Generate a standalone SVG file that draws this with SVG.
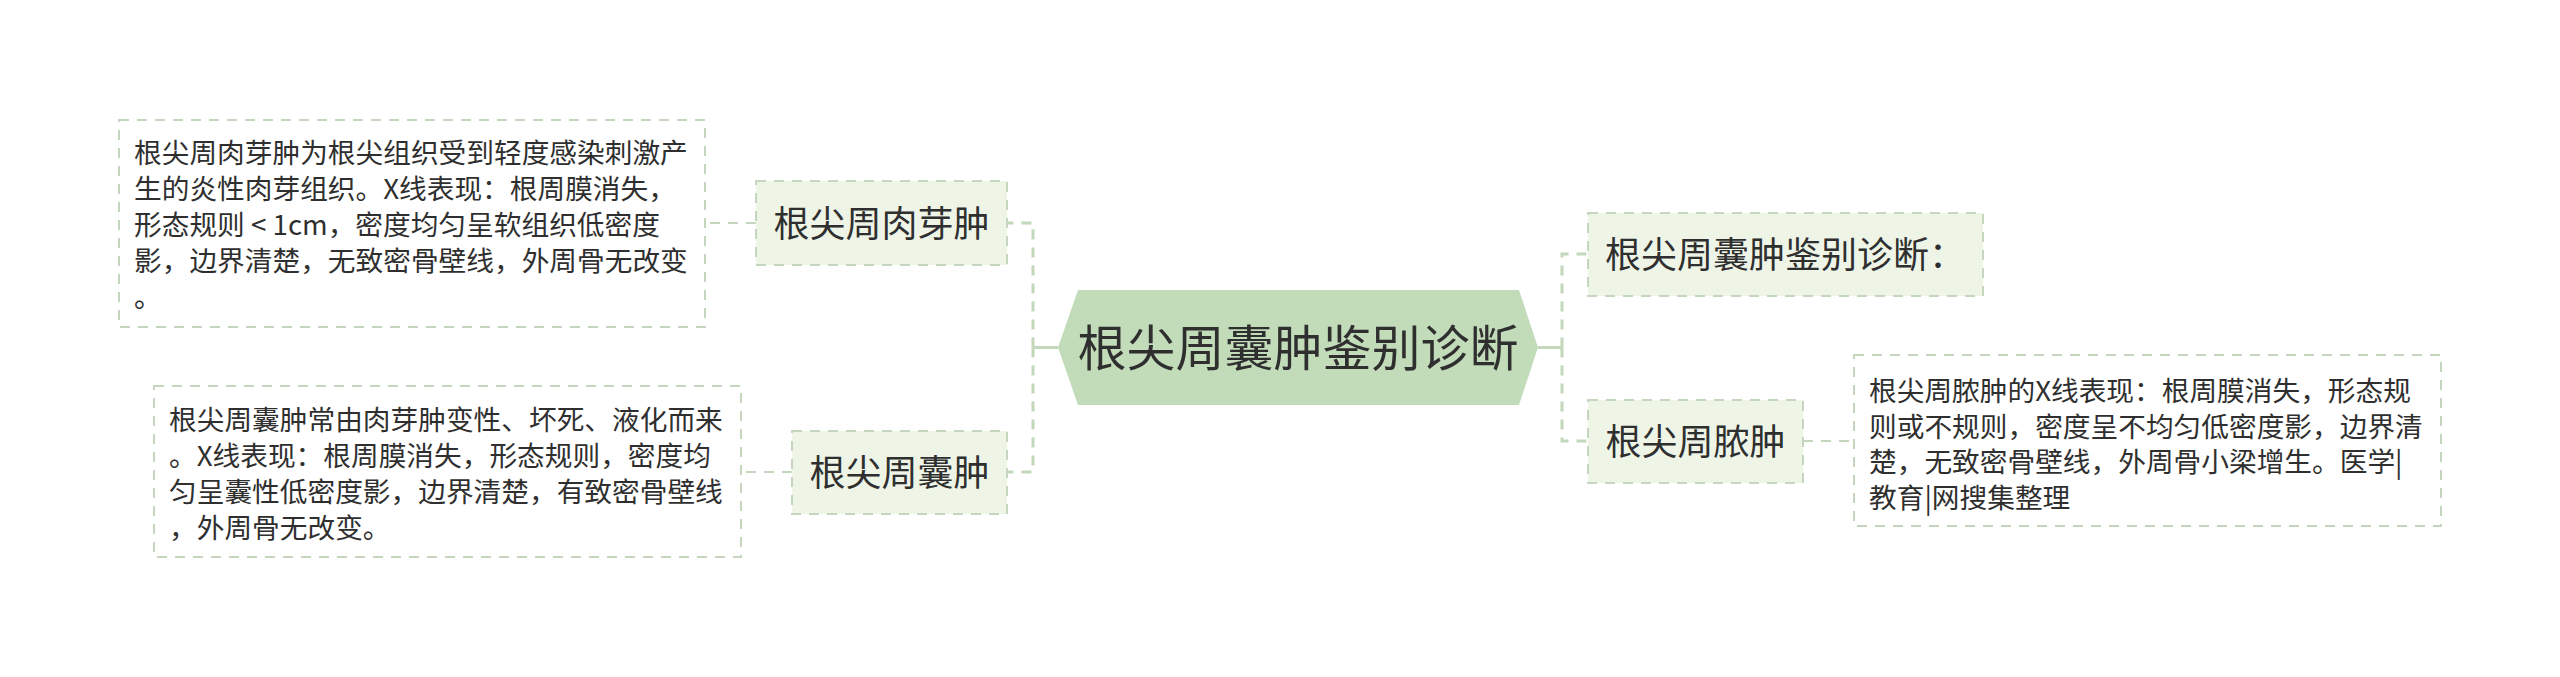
<svg xmlns="http://www.w3.org/2000/svg" width="2560" height="677" viewBox="0 0 2560 677">
<style>
  text { font-family: "Noto Sans CJK SC", "Noto Sans", sans-serif; fill: #2f2f2f; }
  .detail { fill: #ffffff; stroke: #c5d6bf; stroke-width: 2; stroke-dasharray: 10 8; }
  .sub { fill: #eef5e7; stroke: #c5d6bf; stroke-width: 2; stroke-dasharray: 10 8; }
  .t-detail { font-size: 27.7px; }
  .t-sub { font-size: 36px; }
  .t-main { font-size: 49px; }
  .conn { fill: none; stroke: #c3d8ba; stroke-width: 3; stroke-dasharray: 10 8; }
  .conn-thin { fill: none; stroke: #c5d6bf; stroke-width: 2; stroke-dasharray: 10 8; }
  .conn-solid { fill: none; stroke: #c3d8ba; stroke-width: 3; }
</style>
<rect width="2560" height="677" fill="#ffffff"/>

<g id="connectors">
  <line class="conn-solid" x1="1033" y1="347.5" x2="1058" y2="347.5"/>
  <path class="conn" d="M1033,347.5 V223 H1007"/>
  <path class="conn" d="M1033,347.5 V472 H1007"/>
  <line class="conn-solid" x1="1538" y1="347.5" x2="1562" y2="347.5"/>
  <path class="conn" d="M1562,347.5 V254 H1588"/>
  <path class="conn" d="M1562,347.5 V441 H1588"/>
  <line class="conn-thin" x1="756" y1="223" x2="705" y2="223"/>
  <line class="conn-thin" x1="792" y1="472" x2="741" y2="472"/>
  <line class="conn-thin" x1="1803" y1="441" x2="1854" y2="441"/>
</g>

<g id="root">
  <polygon points="1058,347.5 1078,290 1519,290 1538,347.5 1519,405 1078,405" fill="#c2dbb9"/>
  <text class="t-main" x="1298" y="366" text-anchor="middle">根尖周囊肿鉴别诊断</text>
</g>

<g id="node-granuloma">
  <rect class="sub" x="756" y="181" width="251" height="84"/>
  <text class="t-sub" x="881.5" y="237" text-anchor="middle">根尖周肉芽肿</text>
</g>

<g id="detail-granuloma">
  <rect class="detail" x="119" y="120" width="586" height="207"/>
  <text class="t-detail" x="134" y="163">根尖周肉芽肿为根尖组织受到轻度感染刺激产</text>
  <text class="t-detail" x="134" y="199">生的炎性肉芽组织。X线表现：根周膜消失，</text>
  <text class="t-detail" x="134" y="235" xml:space="preserve">形态规则 &lt; 1cm，密度均匀呈软组织低密度</text>
  <text class="t-detail" x="134" y="271">影，边界清楚，无致密骨壁线，外周骨无改变</text>
  <text class="t-detail" x="134" y="307">。</text>
</g>

<g id="node-cyst">
  <rect class="sub" x="792" y="431" width="215" height="83"/>
  <text class="t-sub" x="899.5" y="486" text-anchor="middle">根尖周囊肿</text>
</g>

<g id="detail-cyst">
  <rect class="detail" x="154" y="386" width="587" height="171"/>
  <text class="t-detail" x="169" y="430">根尖周囊肿常由肉芽肿变性、坏死、液化而来</text>
  <text class="t-detail" x="169" y="466">。X线表现：根周膜消失，形态规则，密度均</text>
  <text class="t-detail" x="169" y="502">匀呈囊性低密度影，边界清楚，有致密骨壁线</text>
  <text class="t-detail" x="169" y="538">，外周骨无改变。</text>
</g>

<g id="node-diagnosis">
  <rect class="sub" x="1588" y="213" width="395" height="83"/>
  <text class="t-sub" x="1605" y="268">根尖周囊肿鉴别诊断：</text>
</g>

<g id="node-abscess">
  <rect class="sub" x="1588" y="400" width="215" height="83"/>
  <text class="t-sub" x="1695.5" y="455" text-anchor="middle">根尖周脓肿</text>
</g>

<g id="detail-abscess">
  <rect class="detail" x="1854" y="355" width="587" height="171"/>
  <text class="t-detail" x="1869" y="401">根尖周脓肿的X线表现：根周膜消失，形态规</text>
  <text class="t-detail" x="1869" y="436.5">则或不规则，密度呈不均匀低密度影，边界清</text>
  <text class="t-detail" x="1869" y="472">楚，无致密骨壁线，外周骨小梁增生。医学|</text>
  <text class="t-detail" x="1869" y="507.5">教育|网搜集整理</text>
</g>
</svg>
